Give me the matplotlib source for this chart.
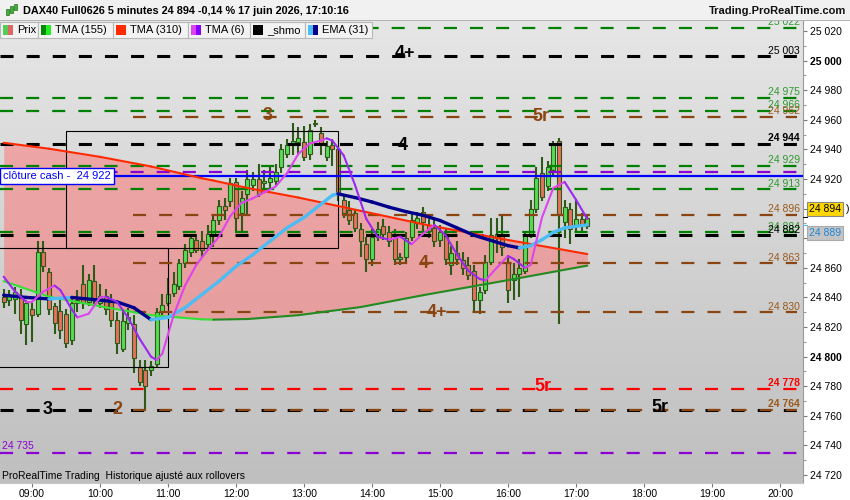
import numpy as np
import pandas as pd
import matplotlib
matplotlib.use("Agg")
import matplotlib.pyplot as plt
from matplotlib.patches import Rectangle
from matplotlib.collections import LineCollection
from matplotlib.colors import LinearSegmentedColormap

plt.rcParams['font.family'] = ['Liberation Sans', 'DejaVu Sans']
plt.rcParams['lines.scale_dashes'] = False

# 5 minute candles, first bar 08:35, last bar 17:10
opens = [24840, 24838, 24839, 24840, 24822, 24832, 24829, 24871, 24857, 24834,
         24831, 24829, 24811, 24836, 24849, 24837, 24851, 24836, 24841, 24837,
         24825, 24805, 24823, 24822, 24793, 24791, 24791, 24795, 24830, 24836,
         24843, 24848, 24863, 24871, 24879, 24878, 24876, 24883, 24892, 24902,
         24905, 24918, 24897, 24910, 24916, 24920, 24917, 24918, 24919, 24928,
         24937, 24943, 24945, 24945, 24937, 24958, 24951, 24935, 24943, 24940,
         24906, 24899, 24897, 24886, 24876, 24866, 24881, 24888, 24884, 24880,
         24866, 24867, 24881, 24890, 24898, 24889, 24887, 24879, 24882, 24862,
         24870, 24865, 24862, 24858, 24838, 24845, 24864, 24880, 24882, 24863,
         24852, 24856, 24858, 24883, 24900, 24924, 24915, 24926, 24946, 24891,
         24900, 24888, 24893, 24888]
highs = [24846, 24845, 24847, 24846, 24838, 24836, 24878, 24878, 24860, 24836,
         24838, 24832, 24840, 24845, 24862, 24856, 24862, 24849, 24846, 24842,
         24830, 24831, 24833, 24828, 24798, 24798, 24797, 24833, 24842, 24853,
         24857, 24866, 24876, 24883, 24883, 24885, 24889, 24895, 24906, 24907,
         24921, 24921, 24912, 24926, 24925, 24930, 24926, 24928, 24930, 24944,
         24947, 24958, 24955, 24956, 24957, 24960, 24955, 24946, 24947, 24942,
         24909, 24905, 24900, 24890, 24881, 24886, 24891, 24893, 24888, 24886,
         24870, 24884, 24897, 24898, 24901, 24893, 24892, 24889, 24886, 24875,
         24878, 24871, 24867, 24862, 24847, 24869, 24894, 24894, 24895, 24868,
         24863, 24866, 24885, 24906, 24928, 24935, 24932, 24946, 24948, 24906,
         24904, 24906, 24897, 24896]
lows = [24833, 24834, 24829, 24815, 24808, 24810, 24827, 24857, 24828, 24815,
        24812, 24806, 24808, 24830, 24832, 24834, 24834, 24833, 24828, 24820,
        24802, 24803, 24818, 24789, 24780, 24764, 24787, 24793, 24826, 24834,
        24840, 24845, 24860, 24867, 24870, 24867, 24872, 24874, 24889, 24892,
        24901, 24885, 24885, 24896, 24912, 24908, 24912, 24914, 24915, 24924,
        24934, 24936, 24937, 24932, 24933, 24955, 24936, 24932, 24929, 24905,
        24894, 24889, 24884, 24867, 24857, 24861, 24878, 24879, 24874, 24862,
        24862, 24864, 24878, 24886, 24885, 24880, 24874, 24874, 24862, 24855,
        24862, 24855, 24852, 24830, 24829, 24842, 24862, 24870, 24868, 24836,
        24838, 24840, 24856, 24880, 24897, 24905, 24912, 24922, 24822, 24880,
        24876, 24884, 24884, 24886]
closes = [24837, 24841, 24844, 24825, 24836, 24828, 24871, 24861, 24832, 24823,
          24818, 24809, 24836, 24838, 24836, 24852, 24838, 24841, 24832, 24825,
          24809, 24824, 24827, 24799, 24783, 24780, 24794, 24830, 24835, 24842,
          24849, 24863, 24872, 24880, 24872, 24872, 24883, 24892, 24902, 24899,
          24917, 24894, 24907, 24920, 24920, 24910, 24919, 24921, 24925, 24940,
          24943, 24946, 24948, 24935, 24953, 24957, 24944, 24942, 24940, 24910,
          24897, 24892, 24887, 24878, 24866, 24881, 24886, 24883, 24878, 24866,
          24867, 24880, 24892, 24894, 24891, 24885, 24878, 24884, 24866, 24870,
          24866, 24860, 24855, 24838, 24844, 24864, 24882, 24883, 24874, 24845,
          24856, 24860, 24882, 24900, 24921, 24908, 24928, 24944, 24896, 24901,
          24886, 24893, 24888, 24894]

# moving averages
long_times = ["08:35", "09:15", "10:00", "10:45", "11:30", "11:40", "12:10",
              "12:55", "13:50", "14:45", "15:55", "17:10"]
tma310_vals = [24944.5, 24940.5, 24935, 24928.5, 24920.5, 24919, 24914,
               24907.5, 24898.5, 24889.5, 24879.5, 24869.3]
tma155_vals = [24851, 24840.5, 24834, 24828, 24825.2, 24825, 24825.4,
               24828, 24833.5, 24841.5, 24851, 24861.5]

ema_times = ["08:35", "08:55", "09:15", "09:35", "09:55", "10:15", "10:30", "10:45",
             "11:00", "11:15", "11:30", "11:45", "12:00", "12:15", "12:30", "12:45",
             "13:00", "13:15", "13:25", "13:30", "13:45", "14:00", "14:15", "14:30",
             "14:45", "15:00", "15:15", "15:30", "15:45", "16:00", "16:10", "16:20",
             "16:30", "16:40", "16:50", "17:00", "17:10"]
ema_vals = [24841.5, 24840, 24839, 24840, 24838.5, 24837, 24833, 24825,
            24826.5, 24833, 24842, 24851, 24861, 24869, 24878, 24887,
            24894, 24903, 24909, 24910, 24907.5, 24904.5, 24901, 24898,
            24895.5, 24892, 24887, 24882, 24878.5, 24875, 24873.5, 24875,
            24879, 24884, 24887, 24888, 24889]

tma6_times = ["08:35", "08:45", "08:55", "09:00", "09:10", "09:20", "09:25", "09:35",
              "09:40", "09:50", "10:00", "10:05", "10:15", "10:25", "10:35", "10:45",
              "10:50", "10:55", "11:00", "11:05", "11:15", "11:25", "11:35", "11:45",
              "11:55", "12:05", "12:15", "12:25", "12:35", "12:45", "12:55", "13:05",
              "13:15", "13:20", "13:25", "13:35", "13:45", "13:55", "14:05", "14:15",
              "14:25", "14:35", "14:45", "14:55", "15:05", "15:15", "15:25", "15:35",
              "15:40", "15:50", "16:00", "16:05", "16:15", "16:20", "16:30", "16:40",
              "16:50", "17:00", "17:10"]
tma6_vals = [24854, 24844, 24837, 24837, 24844, 24848, 24845, 24832,
             24826.5, 24829, 24840, 24840.5, 24837, 24826, 24812, 24800,
             24797.7, 24802, 24815, 24828, 24848, 24862, 24872, 24881,
             24895, 24904, 24907, 24911, 24915, 24924, 24937, 24944,
             24946, 24947.5, 24946, 24936, 24916, 24893, 24881, 24879,
             24881, 24876, 24883, 24889, 24882, 24869, 24858, 24852.5,
             24851.5, 24860, 24868, 24866, 24860, 24862, 24894, 24914,
             24918, 24906, 24893]

# horizontal levels
level_vals = [25022, 25003, 24975, 24966, 24962, 24944, 24929, 24925, 24913,
              24896, 24884, 24882, 24863, 24830, 24778, 24764, 24764, 24735]
level_kinds = ["green", "black", "green", "green", "brown", "black", "green", "purple", "green",
               "brown", "green", "black", "brown", "brown", "red", "black", "brown", "purple"]
label_vals = [25022, 25003, 24975, 24966, 24962, 24944, 24929, 24913,
              24896, 24884, 24882, 24863, 24830, 24778, 24764]
label_kinds = ["green", "black", "green", "green", "brown", "black", "green", "green",
               "brown", "green", "black", "brown", "brown", "red", "brown"]
cash_close = 24922

# pattern marks
mark_texts = ["3", "4+", "4", "5r", "4", "4+", "3", "2", "5r", "5r"]
mark_times = ["12:28", "14:29", "14:27", "16:29", "14:46", "14:57", "09:14", "10:15", "16:31", "18:14"]
mark_vals = [24963, 25004.5, 24943, 24962, 24863, 24830, 24764, 24764, 24779.5, 24765.5]
mark_kinds = ["brown", "black", "black", "brown", "brown", "brown", "black", "brown", "red", "black"]

# boxes
box_t0 = ["09:30", "08:20"]
box_t1 = ["13:30", "11:00"]
box_lo = [24873.6, 24792.8]
box_hi = [24952.6, 24873.6]

hour_ticks = list(range(9, 21))
price_ticks = list(range(24720, 25021, 20))
hidden_ticks = [24900, 24880]   # covered by the price boxes


def hm(s):
    h, m = s.split(":")
    return int(h) + int(m) / 60


def fmt(v):
    return f"{int(v):,}".replace(",", " ")


cols = {"green": "#008000", "black": "#000000", "brown": "#8B4513",
        "red": "#ff0000", "purple": "#8a00d4"}
txt_cols = {"green": "#2e9a2e", "black": "#000000", "brown": "#9a5a1e",
            "red": "#ff0000", "purple": "#8a00d4"}

W, H = 850, 500
fig = plt.figure(figsize=(8.5, 5), dpi=100, facecolor="white")
ax = fig.add_axes([0, 17 / H, 803 / W, 462 / H])

x0 = 9 + (0 - 32) / 68
x1 = 9 + (803 - 32) / 68
y0, y1 = 24714.6, 25026.8
ax.set_xlim(x0, x1)
ax.set_ylim(y0, y1)

# background gradient
grad = np.linspace(0, 1, 256).reshape(-1, 1)
bg = LinearSegmentedColormap.from_list("bg", ["#bfbfbf", "#e6e6e6"])
ax.imshow(grad, extent=[x0, x1, y0, y1], origin="lower", aspect="auto", cmap=bg, zorder=0)

# cloud between the two long TMAs
lt = np.array([hm(s) for s in long_times])
ax.fill_between(lt, tma310_vals, tma155_vals, color="#ff7070", alpha=0.5, lw=0, zorder=1)

# candles
t = np.array([hm("08:35") + i * 5 / 60 for i in range(len(opens))])
o, h, l, c = map(np.array, (opens, highs, lows, closes))
edge = "#2d5a16"
ax.vlines(t, l, h, color=edge, lw=1.5, zorder=3)
up = c >= o
bw = 0.75 * 5 / 60
ax.bar(t[up], np.maximum(c[up] - o[up], 0.6), bottom=o[up], width=bw,
       color="#55dd55", edgecolor=edge, linewidth=0.8, zorder=3)
ax.bar(t[~up], np.maximum(o[~up] - c[~up], 0.6), bottom=c[~up], width=bw,
       color="#e8705c", edgecolor=edge, linewidth=0.8, zorder=3)

# boxes
for a, b, lo, hi in zip(box_t0, box_t1, box_lo, box_hi):
    ax.add_patch(Rectangle((hm(a), lo), hm(b) - hm(a), hi - lo, fill=False,
                           edgecolor="black", lw=0.8, zorder=3.5))

# dashed levels
x_end = 9 + (797 - 32) / 68
for v, k in zip(level_vals, level_kinds):
    start = 9 + (133 - 32) / 68 if k == "brown" else x0
    lw = 2.2 if k == "black" else 1.6
    ax.plot([start, x_end], [v, v], color=cols[k], lw=lw, dashes=(9.4, 9.4),
            solid_capstyle="butt", dash_capstyle="butt", zorder=4)

ax.axhline(cash_close, color="#0000ff", lw=1.6, zorder=4.2)


def slope_line(tt, vv, up_col, down_col, lw, z):
    tt = np.array([hm(s) for s in tt])
    vv = np.array(vv)
    pts = np.column_stack([tt, vv])
    segs = np.stack([pts[:-1], pts[1:]], axis=1)
    cc = [up_col if b >= a else down_col for a, b in zip(vv[:-1], vv[1:])]
    ax.add_collection(LineCollection(segs, colors=cc, linewidths=lw, zorder=z,
                                     capstyle="round", joinstyle="round"))


slope_line(long_times, tma310_vals, "#ff2a00", "#ff2a00", 1.5, 5)
slope_line(long_times, tma155_vals, "#228b22", "#33e033", 1.5, 5)
slope_line(ema_times, ema_vals, "#4cbcf5", "#00008b", 2.4, 5.2)
slope_line(tma6_times, tma6_vals, "#dd44ee", "#9a28f0", 1.5, 5.4)

# level labels on the right
for v, k in zip(label_vals, label_kinds):
    bold = v in (24944, 24778, 24764)
    ax.annotate(fmt(v), xy=(800 / 803, v), xycoords=("axes fraction", "data"),
                xytext=(0, 0.5), textcoords="offset points", ha="right", va="bottom",
                fontsize=7.5, color=txt_cols[k], fontweight="bold" if bold else "normal",
                zorder=6, annotation_clip=False, clip_on=True)

ax.annotate("24 735", xy=(2 / 803, 24735), xycoords=("axes fraction", "data"),
            xytext=(0, 1.5), textcoords="offset points", ha="left", va="bottom",
            fontsize=7.5, color=txt_cols["purple"], zorder=6)

# pattern marks
for s, tm, v, k in zip(mark_texts, mark_times, mark_vals, mark_kinds):
    ax.text(hm(tm), v, s, fontsize=13, fontweight="bold",
            color="#8B4513" if k == "brown" else txt_cols[k],
            ha="center", va="center", zorder=6)

# cash close label
ax.text(3 / 803, cash_close, "clôture cash -  " + fmt(cash_close), transform=ax.get_yaxis_transform(),
        fontsize=8, color="#0000ff", ha="left", va="center", zorder=7,
        bbox=dict(boxstyle="square,pad=0.25", facecolor="white", edgecolor="#0000ff", lw=1))

ax.text(2 / 803, 7 / 462, "ProRealTime Trading  Historique ajusté aux rollovers", transform=ax.transAxes,
        fontsize=7.5, color="black", ha="left", va="center", zorder=7)

# axes
for sp in ("top", "left"):
    ax.spines[sp].set_visible(False)
ax.spines["right"].set_color("#9a9a9a")
ax.spines["bottom"].set_color("#c8c8c8")
ax.yaxis.tick_right()
ax.set_yticks(price_ticks)
ax.set_yticklabels(["" if v in hidden_ticks else fmt(v) for v in price_ticks])
ax.set_yticks(list(range(24720, 25021, 10)), minor=True)
for lab, v in zip(ax.get_yticklabels(), price_ticks):
    if v % 200 == 0:
        lab.set_fontweight("bold")
        lab.set_fontsize(8.5)
ax.tick_params(axis="y", which="major", direction="out", length=3, width=0.8, color="#777777",
               labelsize=7.5, pad=2)
ax.tick_params(axis="y", which="minor", direction="out", length=2, width=0.8, color="#999999")
ax.set_xticks(hour_ticks)
ax.set_xticklabels([f"{hh:02d}:00" for hh in hour_ticks])
ax.tick_params(axis="x", direction="out", length=3, width=0.8, color="#777777", labelsize=7.5, pad=1)

# price boxes on the axis
fig.text(809 / W, 1 - 209 / H, "24 894", fontsize=7.5, color="black", va="center", ha="left",
         bbox=dict(boxstyle="square,pad=0.2", facecolor="#ffd700", edgecolor="#888888", lw=0.8))
fig.text(846 / W, 1 - 209 / H, ")", fontsize=7.5, color="black", va="center", ha="left")
fig.text(809 / W, 1 - 233 / H, "24 889", fontsize=7.5, color="#1c86d8", va="center", ha="left",
         bbox=dict(boxstyle="square,pad=0.2", facecolor="#c4c4c4", edgecolor="#aaaaaa", lw=0.8))
fig.patches.append(Rectangle((803 / W, 1 - 218 / H), 5 / W, 1.2 / H, transform=fig.transFigure,
                             facecolor="black", edgecolor="none"))
fig.patches.append(Rectangle((803 / W, 1 - 226 / H), 5 / W, 1.2 / H, transform=fig.transFigure,
                             facecolor="#4cbcf5", edgecolor="none"))

# title bar
fig.patches.append(Rectangle((0, 1 - 20 / H), 1, 20 / H, transform=fig.transFigure,
                             facecolor="#f1f1f1", edgecolor="none", zorder=1))
fig.patches.append(Rectangle((0, 1 - 21 / H), 1, 1 / H, transform=fig.transFigure,
                             facecolor="#b4b4b4", edgecolor="none", zorder=1))
# small candle icon
for xi, yb, hh in [(6, 9, 6), (10, 6, 7), (14, 4, 6)]:
    fig.patches.append(Rectangle((xi / W, 1 - (yb + hh) / H), 2.5 / W, hh / H, transform=fig.transFigure,
                                 facecolor="#3cb43c", edgecolor="#2d6a1e", lw=0.5, zorder=2))
fig.text(23 / W, 1 - 11 / H, "DAX40 Full0626 5 minutes 24 894 -0,14 % 17 juin 2026, 17:10:16",
         fontsize=7.8, fontweight="bold", color="black", va="center", ha="left")
fig.text(846 / W, 1 - 11 / H, "Trading.ProRealTime.com", fontsize=8, fontweight="bold",
         color="#111111", va="center", ha="right")

# legend boxes
legend_items = ["Prix", "TMA (155)", "TMA (310)", "TMA (6)", "_shmo", "EMA (31)"]
legend_cols = [("#55cc55", "#e06666"), ("#008800", "#22ee22"), ("#ff2a00", "#ff2a00"),
               ("#dd44ee", "#8800ff"), ("#000000", "#000000"), ("#4cbcf5", "#00008b")]
legend_edges = [0, 37.7, 112.7, 187.7, 250, 305, 372]
for i, (name, (ca, cb)) in enumerate(zip(legend_items, legend_cols)):
    a, b = legend_edges[i], legend_edges[i + 1]
    fig.patches.append(Rectangle((a / W, 1 - 37.5 / H), (b - a) / W, 15 / H, transform=fig.transFigure,
                                 facecolor="#f3f3f3", edgecolor="#b8b8b8", lw=0.8, zorder=2))
    fig.patches.append(Rectangle(((a + 3) / W, 1 - 35 / H), 5 / W, 10 / H, transform=fig.transFigure,
                                 facecolor=ca, edgecolor="none", zorder=3))
    fig.patches.append(Rectangle(((a + 8) / W, 1 - 35 / H), 5 / W, 10 / H, transform=fig.transFigure,
                                 facecolor=cb, edgecolor="none", zorder=3))
    fig.text((a + 17) / W, 1 - 30 / H, name, fontsize=8, color="black", va="center", ha="left", zorder=4)

fig.savefig("out.png", dpi=100, facecolor="white")
